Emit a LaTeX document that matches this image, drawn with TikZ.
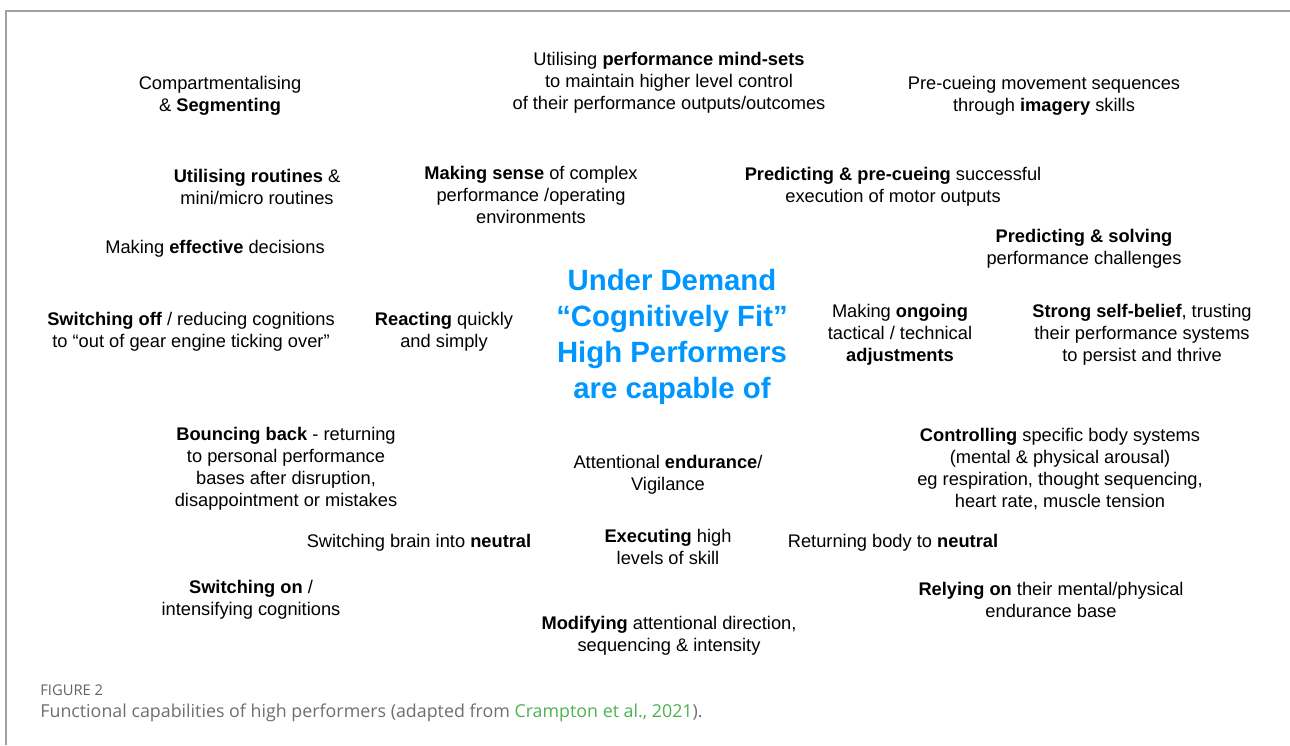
\documentclass[tikz,border=0pt]{standalone}
\usepackage{fontspec}
\setmainfont{Liberation Sans}
\newfontfamily\capfont{Open Sans}
\definecolor{titleblue}{RGB}{0,150,255}
\definecolor{capgray}{RGB}{110,110,110}
\definecolor{capgreen}{RGB}{76,178,84}
\definecolor{framegray}{RGB}{160,160,160}

\begin{document}
\begin{tikzpicture}[x=0.02cm, y=-0.02cm,
    lbl/.style={align=center, inner sep=0pt, font=\fontsize{10.4}{12.5}\selectfont},
    hub/.style={align=center, inner sep=0pt, text=titleblue,
      font=\fontsize{16.7}{20.4}\selectfont\bfseries}]
    \useasboundingbox (0, 0) rectangle (1290, 745);
    \draw[framegray, line width=0.8pt] (6, 745) -- (6, 11) -- (1290, 11);

    \node[hub] at (672, 337) (centre) {Under Demand\\``Cognitively Fit''\\High Performers\\are capable of};

    \node[lbl] at (220, 96) (compSeg) {Compartmentalising\\\& \textbf{Segmenting}};
    \node[lbl] at (669, 83) (mindSets) {Utilising \textbf{performance mind-sets}\\to maintain higher level control\\of their performance outputs/outcomes};
    \node[lbl] at (1044, 96) (preCue) {Pre-cueing movement sequences\\through \textbf{imagery} skills};
    \node[lbl] at (257, 187) (routines) {\textbf{Utilising routines} \&\\mini/micro routines};
    \node[lbl] at (531, 195) (makeSense) {\textbf{Making sense} of complex\\performance /operating\\environments};
    \node[lbl] at (893, 187) (predPre) {\textbf{Predicting \& pre-cueing} successful\\execution of motor outputs};
    \node[lbl] at (215, 249) (decide) {Making \textbf{effective} decisions};
    \node[lbl] at (1084, 249) (predSolve) {\textbf{Predicting \& solving}\\performance challenges};
    \node[lbl] at (191, 332) (switchOff) {\textbf{Switching off} / reducing cognitions\\to ``out of gear engine ticking over''};
    \node[lbl] at (444, 332) (react) {\textbf{Reacting} quickly\\and simply};
    \node[lbl] at (900, 335) (ongoing) {Making \textbf{ongoing}\\tactical / technical\\\textbf{adjustments}};
    \node[lbl] at (1142, 335) (belief) {\textbf{Strong self-belief}, trusting\\their performance systems\\to persist and thrive};
    \node[lbl] at (286, 469) (bounce) {\textbf{Bouncing back} - returning\\to personal performance\\bases after disruption,\\disappointment or mistakes};
    \node[lbl] at (668, 475) (endure) {Attentional \textbf{endurance}/\\Vigilance};
    \node[lbl] at (1060, 469) (control) {\textbf{Controlling} specific body systems\\(mental \& physical arousal)\\eg respiration, thought sequencing,\\heart rate, muscle tension};
    \node[lbl] at (419, 543) (brainNeutral) {Switching brain into \textbf{neutral}};
    \node[lbl] at (668, 547) (execute) {\textbf{Executing} high\\levels of skill};
    \node[lbl] at (893, 543) (bodyNeutral) {Returning body to \textbf{neutral}};
    \node[lbl] at (251, 600) (switchOn) {\textbf{Switching on} /\\intensifying cognitions};
    \node[lbl] at (1051, 600) (relyOn) {\textbf{Relying on} their mental/physical\\endurance base};
    \node[lbl] at (669, 636) (modify) {\textbf{Modifying} attentional direction,\\sequencing \& intensity};

    % caption
    \node[anchor=west, inner sep=0pt, text=capgray!90!black, font=\capfont\fontsize{8.4}{10}\selectfont]
      at (40, 690) (figNo) {FIGURE 2};
    \node[anchor=west, inner sep=0pt, text=capgray, font=\capfont\fontsize{10.15}{12}\selectfont]
      at (40, 713) (figCap) {Functional capabilities of high performers (adapted from \textcolor{capgreen}{Crampton et al., 2021}).};
\end{tikzpicture}
\end{document}
